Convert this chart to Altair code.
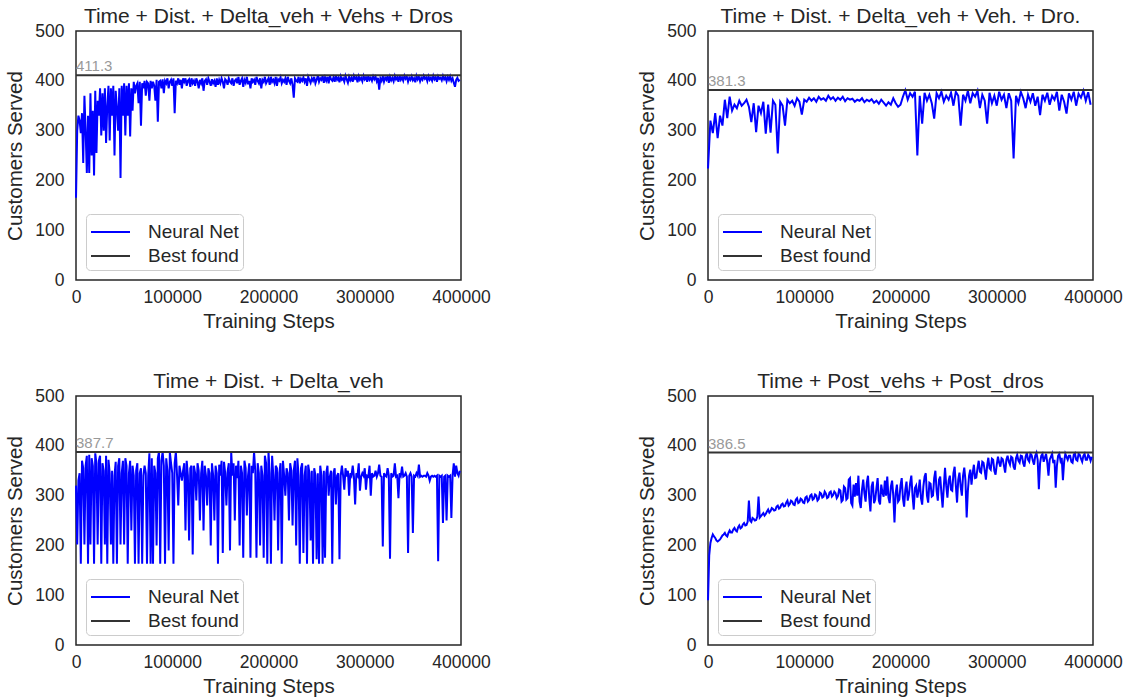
import altair as alt
import pandas as pd

X_MAX = 400000
titles = [
    "Time + Dist. + Delta_veh + Vehs + Dros",
    "Time + Dist. + Delta_veh + Veh. + Dro.",
    "Time + Dist. + Delta_veh",
    "Time + Post_vehs + Post_dros",
]
best_values = [411.3, 381.3, 387.7, 386.5]
x_ticks = [0, 100000, 200000, 300000, 400000]
y_ticks = [0, 100, 200, 300, 400, 500]
series_names = ["Neural Net", "Best found"]

# 320 samples, one every 1250 steps
nn_1 = [
    165, 300, 330, 320, 295, 335, 235, 370, 300, 215,
    330, 215, 375, 250, 340, 210, 380, 255, 360, 330,
    385, 290, 375, 300, 385, 275, 350, 390, 280, 385,
    330, 390, 250, 380, 345, 300, 385, 205, 390, 330,
    395, 290, 390, 330, 395, 288, 385, 340, 398, 375,
    390, 395, 355, 398, 310, 395, 385, 400, 370, 398,
    395, 360, 400, 385, 398, 390, 360, 402, 318, 398,
    400, 385, 403, 375, 400, 395, 405, 385, 398, 402,
    390, 405, 335, 400, 395, 405, 392, 402, 385, 405,
    398, 405, 390, 400, 403, 388, 405, 395, 400, 390,
    405, 398, 385, 402, 395, 405, 380, 400, 403, 392,
    405, 398, 390, 403, 395, 400, 388, 405, 392, 402,
    395, 405, 398, 385, 403, 400, 392, 405, 398, 395,
    405, 390, 400, 403, 395, 408, 392, 400, 405, 388,
    402, 396, 408, 393, 400, 385, 405, 398, 402, 392,
    408, 400, 395, 405, 385, 402, 398, 408, 395, 400,
    405, 392, 408, 398, 402, 395, 408, 390, 403, 400,
    407, 395, 402, 398, 405, 392, 408, 400, 395, 405,
    392, 366, 405, 400, 398, 408, 395, 404, 400, 407,
    398, 405, 390, 408, 402, 396, 405, 400, 408, 395,
    402, 410, 398, 405, 402, 410, 396, 407, 400, 408,
    395, 410, 403, 400, 407, 398, 410, 402, 406, 397,
    409, 402, 405, 398, 410, 403, 396, 408, 401, 406,
    398, 410, 404, 407, 397, 409, 402, 406, 399, 410,
    403, 407, 398, 410, 402, 406, 400, 409, 403, 408,
    399, 406, 382, 405, 400, 409, 398, 406, 402, 410,
    396, 408, 401, 406, 399, 410, 403, 407, 398, 410,
    402, 407, 400, 410, 404, 408, 398, 406, 402, 409,
    401, 405, 397, 410, 403, 408, 399, 406, 402, 410,
    404, 407, 399, 409, 402, 406, 400, 410, 403, 407,
    398, 409, 404, 406, 401, 410, 403, 407, 399, 408,
    402, 409, 400, 405, 396, 388, 402, 406, 400, 402,
]

# 160 samples, one every 2500 steps
nn_2 = [
    224, 320, 295, 335, 285, 330, 310, 362, 325, 368,
    340, 352, 345, 360, 350, 355, 362, 348, 317, 355,
    297, 350, 335, 358, 294, 352, 296, 360, 352, 254,
    358, 350, 310, 362, 355, 360, 350, 365, 358, 332,
    362, 358, 366, 360, 365, 358, 368, 362, 365, 360,
    370, 363, 367, 360, 366, 362, 368, 359, 365, 362,
    364, 358, 362, 360, 365, 357, 362, 359, 363, 356,
    360, 354, 362, 356, 350, 357, 352, 365, 355, 348,
    352, 368, 381, 362, 375, 368, 378, 250, 370, 314,
    376, 360, 372, 355, 324, 375, 365, 378, 358, 370,
    362, 376, 350, 378, 370, 310, 372, 360, 380, 355,
    375, 368, 380, 345, 372, 360, 314, 376, 355, 370,
    350, 378, 362, 372, 345, 375, 360, 244, 370, 355,
    378, 365, 345, 372, 358, 375, 350, 368, 331, 372,
    360, 376, 352, 370, 362, 378, 340, 372, 358, 334,
    375, 362, 378, 350, 374, 366, 380, 360, 377, 352,
]

# 320 samples, one every 1250 steps
nn_3 = [
    320, 202, 330, 345, 163, 370, 355, 202, 360, 380,
    163, 382, 202, 375, 360, 163, 385, 365, 202, 370,
    380, 163, 365, 350, 202, 380, 163, 372, 345, 202,
    350, 163, 340, 368, 163, 360, 375, 202, 345, 370,
    202, 375, 360, 163, 345, 370, 230, 360, 340, 163,
    350, 365, 163, 345, 355, 163, 340, 360, 345, 163,
    340, 385, 163, 375, 163, 360, 345, 200, 375, 388,
    163, 370, 388, 360, 163, 375, 350, 190, 388, 365,
    345, 163, 365, 388, 340, 280, 360, 345, 330, 350,
    365, 230, 370, 340, 210, 355, 360, 182, 360, 345,
    290, 365, 350, 250, 345, 370, 230, 360, 340, 280,
    355, 345, 200, 365, 340, 250, 360, 345, 163, 362,
    340, 370, 185, 368, 345, 280, 348, 365, 190, 388,
    340, 365, 250, 360, 335, 370, 200, 360, 345, 175,
    370, 355, 260, 340, 365, 175, 360, 345, 388, 350,
    175, 365, 345, 200, 360, 340, 175, 380, 365, 163,
    388, 345, 163, 380, 340, 250, 360, 355, 190, 345,
    365, 163, 370, 340, 300, 355, 345, 250, 365, 350,
    240, 350, 370, 200, 375, 340, 163, 355, 365, 185,
    340, 360, 163, 362, 345, 210, 350, 163, 355, 340,
    172, 345, 163, 360, 340, 163, 350, 175, 345, 360,
    300, 338, 350, 163, 345, 355, 282, 340, 345, 172,
    340, 360, 340, 312, 355, 338, 350, 300, 345, 340,
    360, 338, 282, 345, 340, 365, 310, 338, 345, 340,
    355, 312, 340, 338, 360, 300, 345, 338, 340, 350,
    338, 345, 362, 340, 338, 198, 345, 340, 338, 355,
    340, 173, 345, 338, 340, 365, 338, 340, 295, 345,
    340, 358, 338, 340, 345, 338, 185, 340, 345, 338,
    225, 340, 338, 345, 340, 362, 338, 340, 338, 340,
    340, 338, 345, 340, 330, 338, 340, 338, 340, 338,
    340, 168, 340, 338, 340, 245, 338, 340, 250, 340,
    338, 340, 255, 340, 365, 338, 360, 345, 340, 350,
]

# 320 samples, one every 1250 steps
nn_4 = [
    90, 180, 205, 215, 222, 218, 215, 210, 208, 210,
    212, 216, 220, 222, 225, 220, 218, 225, 230, 226,
    226, 232, 235, 230, 228, 236, 240, 234, 236, 242,
    245, 240, 241, 248, 290, 250, 247, 255, 253, 250,
    251, 258, 298, 256, 259, 262, 265, 260, 263, 268,
    272, 266, 269, 275, 273, 270, 271, 278, 280, 274,
    276, 282, 284, 278, 279, 286, 290, 280, 283, 290,
    288, 282, 281, 292, 295, 285, 287, 294, 292, 286,
    285, 296, 298, 288, 291, 300, 302, 292, 294, 302,
    300, 290, 293, 306, 304, 296, 298, 308, 304, 295,
    297, 306, 308, 298, 301, 308, 305, 295, 299, 312,
    310, 288, 291, 318, 315, 292, 295, 332, 335, 285,
    280, 322, 298, 325, 300, 340, 288, 275, 312, 332,
    305, 288, 326, 340, 296, 268, 318, 328, 285, 292,
    315, 335, 290, 282, 322, 306, 298, 330, 300, 338,
    296, 285, 318, 330, 300, 246, 305, 322, 288, 292,
    320, 335, 295, 278, 312, 328, 290, 302, 325, 340,
    300, 272, 315, 320, 296, 310, 332, 295, 282, 318,
    338, 345, 300, 286, 326, 324, 298, 300, 335, 350,
    310, 290, 332, 338, 305, 276, 318, 356, 320, 296,
    330, 340, 312, 310, 345, 358, 320, 286, 332, 346,
    318, 300, 340, 356, 330, 256, 310, 340, 352, 322,
    345, 362, 335, 336, 355, 370, 348, 346, 368, 366,
    350, 332, 360, 376, 355, 352, 374, 372, 350, 342,
    362, 378, 366, 358, 375, 373, 360, 346, 372, 380,
    368, 362, 378, 376, 358, 352, 375, 382, 370, 366,
    380, 379, 365, 358, 378, 386, 372, 368, 384, 381,
    370, 362, 380, 386, 372, 313, 365, 380, 384, 368,
    376, 384, 366, 340, 372, 378, 384, 365, 372, 316,
    360, 380, 384, 370, 376, 331, 368, 384, 378, 372,
    380, 380, 368, 366, 382, 385, 372, 370, 384, 382,
    374, 368, 380, 384, 372, 372, 382, 378, 370, 378,
]

series_values = [nn_1, nn_2, nn_3, nn_4]

FONT = "Liberation Sans"
TEXT_COLOR = "#262626"


def panel(title, values, best):
    step = X_MAX / len(values)
    steps = [i * step for i in range(len(values))]
    df_nn = pd.DataFrame({"step": steps, "value": values, "series": series_names[0]})
    df_best = pd.DataFrame({"step": [x_ticks[0], x_ticks[-1]], "value": [best, best],
                            "series": series_names[1]})
    df = pd.concat([df_nn, df_best], ignore_index=True)

    x = alt.X("step:Q", scale=alt.Scale(domain=[x_ticks[0], x_ticks[-1]], nice=False),
              axis=alt.Axis(values=x_ticks, format="d", title="Training Steps",
                            labelPadding=8, titlePadding=6))
    y = alt.Y("value:Q", scale=alt.Scale(domain=[y_ticks[0], y_ticks[-1]], nice=False),
              axis=alt.Axis(values=y_ticks, format="d", title="Customers Served",
                            labelPadding=12, titlePadding=9))
    color = alt.Color(
        "series:N",
        scale=alt.Scale(domain=series_names, range=["#0000ff", "#333333"]),
        legend=alt.Legend(title=None, orient="bottom-left"),
    )
    lines = alt.Chart(df).mark_line(strokeWidth=2).encode(x=x, y=y, color=color)

    lab = pd.DataFrame({"step": [x_ticks[0]], "value": [best], "label": [f"{best:.1f}"]})
    text = alt.Chart(lab).mark_text(align="left", baseline="bottom", dy=-1, fontSize=15,
                                    color="#999999", font=FONT).encode(
        x=alt.X("step:Q"), y=alt.Y("value:Q"), text="label:N")

    return alt.layer(lines, text).properties(
        width=385, height=249,
        title=alt.Title(title, fontSize=21, font=FONT, fontWeight="normal",
                        color=TEXT_COLOR, offset=-5, frame="group", anchor="middle"),
    )


panels = [panel(t, v, b) for t, v, b in zip(titles, series_values, best_values)]

row1 = alt.hconcat(panels[0], panels[1], spacing=146).resolve_scale(color="independent").resolve_legend(color="independent")
row2 = alt.hconcat(panels[2], panels[3], spacing=146).resolve_scale(color="independent").resolve_legend(color="independent")

chart = alt.vconcat(row1, row2, spacing=37).resolve_scale(color="independent").resolve_legend(
    color="independent"
).properties(padding={"left": 5, "top": 5, "right": 5, "bottom": 5}).configure_view(
    stroke=TEXT_COLOR, strokeWidth=1.5
).configure_axis(
    domain=False, ticks=False, grid=False, labelFlush=False,
    labelFont=FONT, labelFontSize=17.5, labelColor=TEXT_COLOR,
    titleFont=FONT, titleFontSize=20.5, titleFontWeight="normal", titleColor=TEXT_COLOR,
).configure_legend(
    labelFont=FONT, labelFontSize=19, labelColor=TEXT_COLOR,
    symbolType="M-1.5,0H1.5", symbolStrokeWidth=2, symbolSize=676, symbolOffset=6.5,
    fillColor="white", strokeColor="#cccccc", cornerRadius=4, padding=4,
    offset=10, rowPadding=0, labelOffset=23.5,
)

chart.save("out.html", embed_options={"renderer": "svg", "actions": False})
